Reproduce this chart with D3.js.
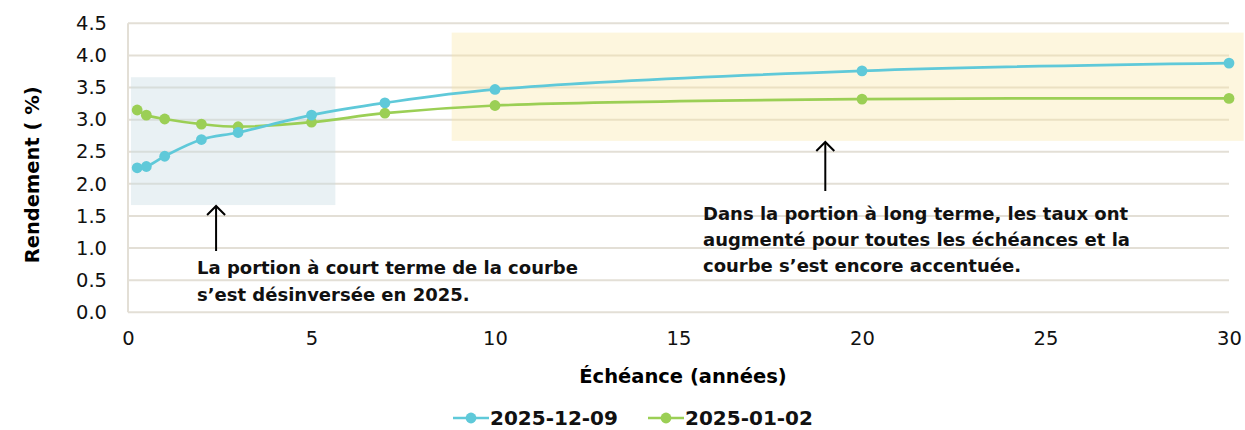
<!DOCTYPE html>
<html>
<head>
<meta charset="utf-8">
<script src="https://cdn.jsdelivr.net/npm/d3@7"></script>
<style>
  body { margin: 0; background: #fff; }
  svg { font-family: "DejaVu Sans", sans-serif; }
</style>
</head>
<body>
<div id="chart"></div>
<script>
// maturities (years)
const maturities = [0.25, 0.5, 1, 2, 3, 5, 7, 10, 20, 30];
const seriesNames = ["2025-12-09", "2025-01-02"];
const yields_20251209 = [2.25, 2.27, 2.43, 2.69, 2.80, 3.07, 3.26, 3.47, 3.76, 3.88];
const yields_20250102 = [3.15, 3.07, 3.01, 2.93, 2.89, 2.96, 3.10, 3.22, 3.32, 3.33];
const xTicks = [0, 5, 10, 15, 20, 25, 30];
const yTicks = [0, 0.5, 1, 1.5, 2, 2.5, 3, 3.5, 4, 4.5];
const shortNote = ["La portion à court terme de la courbe", "s’est désinversée en 2025."];
const longNote = ["Dans la portion à long terme, les taux ont", "augmenté pour toutes les échéances et la", "courbe s’est encore accentuée."];

const W = 1245, H = 430;
const colors = ["#5fc9d9", "#9bcf55"];
const gridColor = "#e3dfd6";

const svg = d3.select("#chart").append("svg")
  .attr("width", W).attr("height", H);

const x = d3.scaleLinear().domain([0, 30]).range([128, 1229]);
const y = d3.scaleLinear().domain([0, 4.5]).range([312.3, 23.3]);

// grid
svg.append("g").selectAll("line").data(yTicks).join("line")
  .attr("x1", x(0)).attr("x2", x(30))
  .attr("y1", d => y(d)).attr("y2", d => y(d))
  .attr("stroke", gridColor).attr("stroke-width", 2);
svg.append("line")
  .attr("x1", x(0)).attr("x2", x(0))
  .attr("y1", y(4.5)).attr("y2", y(0))
  .attr("stroke", gridColor).attr("stroke-width", 2);

// highlighted regions
svg.append("rect")
  .attr("x", x(0.08)).attr("y", y(3.66))
  .attr("width", x(5.65) - x(0.08)).attr("height", y(1.67) - y(3.66))
  .attr("fill", "rgb(200,220,228)").attr("opacity", 0.4);
svg.append("rect")
  .attr("x", x(8.82)).attr("y", y(4.355))
  .attr("width", x(30.4) - x(8.82)).attr("height", y(2.67) - y(4.355))
  .attr("fill", "rgb(250,230,160)").attr("opacity", 0.35);

// axis tick labels
const yAxis = svg.append("g")
  .attr("transform", `translate(${x(0)},0)`)
  .call(d3.axisLeft(y).tickValues(yTicks).tickFormat(d3.format(".1f")).tickSize(0).tickPadding(21));
const xAxis = svg.append("g")
  .attr("transform", `translate(0,${y(0)})`)
  .call(d3.axisBottom(x).tickValues(xTicks).tickSize(0).tickPadding(19));
[yAxis, xAxis].forEach(a => {
  a.select(".domain").remove();
  a.selectAll("text").attr("font-size", 19.5).attr("fill", "#111")
    .attr("font-family", "'DejaVu Sans', sans-serif");
});

// axis titles
svg.append("text")
  .attr("transform", `translate(39,${y(2.25) + 7}) rotate(-90)`)
  .attr("text-anchor", "middle")
  .attr("font-size", 19.5).attr("font-weight", 700)
  .text("Rendement ( %)");
svg.append("text")
  .attr("x", 683).attr("y", 383)
  .attr("text-anchor", "middle")
  .attr("font-size", 19.5).attr("font-weight", 700)
  .text("Échéance (années)");

// series
const series = [yields_20251209, yields_20250102].map((vals, i) => ({
  name: seriesNames[i],
  color: colors[i],
  points: maturities.map((m, j) => ({ m, v: vals[j] }))
}));

const line = d3.line()
  .x(d => x(d.m)).y(d => y(d.v))
  .curve(d3.curveCatmullRom.alpha(0.5));

series.slice().reverse().forEach(s => {
  const g = svg.append("g");
  g.append("path").datum(s.points)
    .attr("d", line).attr("fill", "none")
    .attr("stroke", s.color).attr("stroke-width", 2.7);
  g.selectAll("circle").data(s.points).join("circle")
    .attr("cx", d => x(d.m)).attr("cy", d => y(d.v))
    .attr("r", 5.4).attr("fill", s.color);
});

// annotations
const arrow = (ax, yTop, yBot) => {
  svg.append("line").attr("x1", ax).attr("x2", ax).attr("y1", yTop).attr("y2", yBot)
    .attr("stroke", "#000").attr("stroke-width", 2);
  svg.append("path")
    .attr("d", `M${ax - 9},${yTop + 9} L${ax},${yTop} L${ax + 9},${yTop + 9}`)
    .attr("fill", "none").attr("stroke", "#000").attr("stroke-width", 2);
};
arrow(x(2.4), 206, 251);
arrow(x(19), 142, 191);

const note = (lines, nx, ny, lh) => {
  svg.append("text").attr("font-size", 18).attr("font-weight", 700).attr("fill", "#111")
    .selectAll("tspan").data(lines).join("tspan")
    .attr("x", nx).attr("y", (d, i) => ny + i * lh)
    .text(d => d);
};
note(shortNote, 197, 274, 26.5);
note(longNote, 703, 220, 25.8);

// legend
const legend = svg.append("g").attr("transform", "translate(0,418)");
const legX = [453, 648];
series.forEach((s, i) => {
  const g = legend.append("g").attr("transform", `translate(${legX[i]},0)`);
  g.append("line").attr("x1", 0).attr("x2", 36).attr("y1", 0).attr("y2", 0)
    .attr("stroke", s.color).attr("stroke-width", 2.7);
  g.append("circle").attr("cx", 18).attr("cy", 0).attr("r", 5.4).attr("fill", s.color);
  g.append("text").attr("x", 37).attr("y", 7)
    .attr("font-size", 20).attr("font-weight", 700).attr("fill", "#111")
    .text(s.name);
});
</script>
</body>
</html>
